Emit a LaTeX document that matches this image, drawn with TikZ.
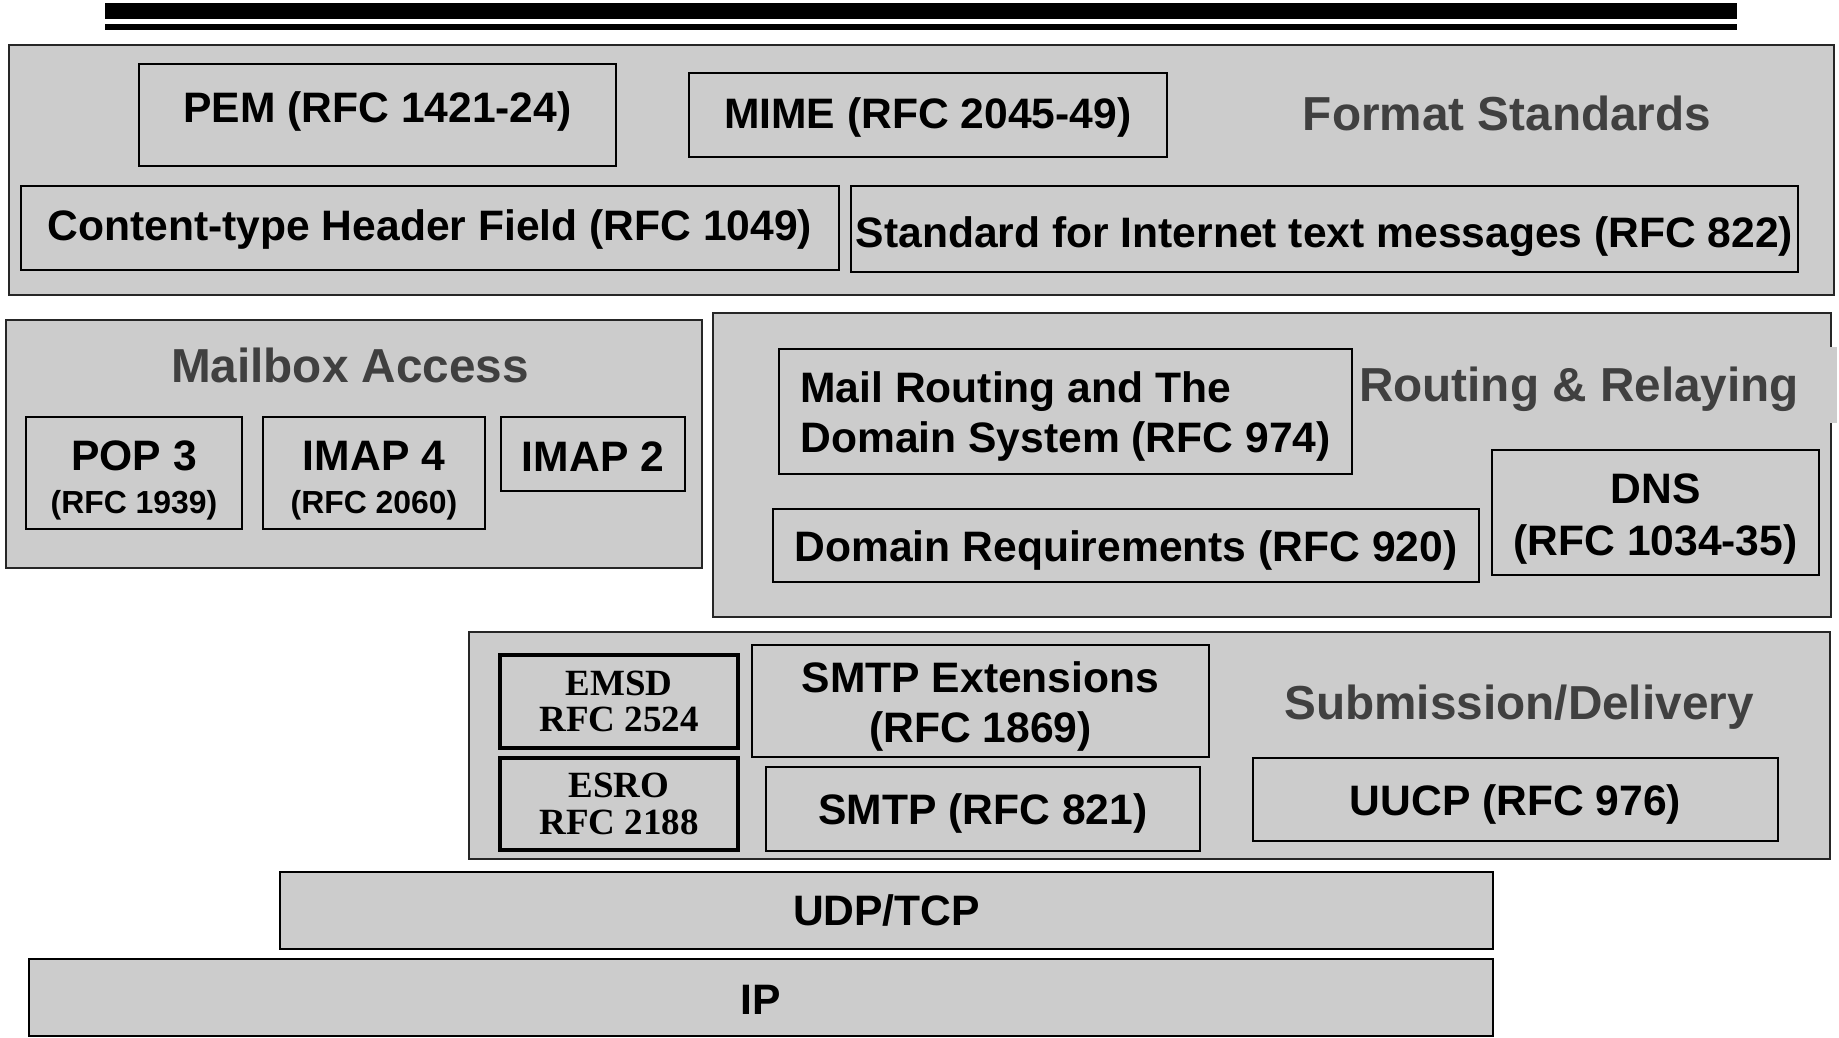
\documentclass[tikz,border=0pt]{standalone}
\usepackage{fontspec}
\setmainfont{Liberation Sans}
\newfontfamily\seriffont{Liberation Serif}
\definecolor{boxgray}{HTML}{CCCCCC}
\definecolor{titlegray}{HTML}{404040}
\begin{document}
\begin{tikzpicture}[x=1pt,y=-1pt,
  group/.style={draw=black!85, fill=boxgray, line width=1.5pt, inner sep=0pt},
  item/.style={draw=black, fill=boxgray, line width=2pt, inner sep=0pt,
    font=\bfseries\fontsize{42.6pt}{50pt}\selectfont},
  oneline/.style={item, text height=#1, text depth=0pt},
  oneline/.default=31pt,
  multiline/.style={item, align=center},
  thickitem/.style={item, align=center, line width=4.5pt,
    font=\seriffont\bfseries\fontsize{37pt}{36.5pt}\selectfont},
  title/.style={text=titlegray, inner sep=0pt,
    font=\bfseries\fontsize{47.7pt}{50pt}\selectfont},
]
\useasboundingbox (0,0) rectangle (1839,1037);

% top double rule
\fill[black] (104.5,3.3) rectangle (1737,19);
\fill[black] (104.5,24) rectangle (1737,30);

% ---------- Format Standards ----------
\node[group, minimum width=1825pt, minimum height=250pt] (fmt) at (921.5,170) {};
\node[oneline=15.5pt, minimum width=477pt, minimum height=102pt] (pem) at (377.5,115) {PEM (RFC 1421-24)};
\node[oneline=26.5pt, minimum width=477.5pt, minimum height=84pt] (mime) at (927.75,115) {MIME (RFC 2045-49)};
\node[title] (fmtT) at (1507,113) {Format Standards};
\node[oneline=24.5pt, minimum width=818.5pt, minimum height=84pt] (ctype) at (429.75,228) {Content-type Header Field (RFC 1049)};
\node[oneline=36pt, minimum width=947pt, minimum height=86pt] (rfc822) at (1324.5,229) {Standard for Internet text messages (RFC 822)};

% ---------- Mailbox Access ----------
\node[group, minimum width=696pt, minimum height=248pt] (mbox) at (354,444) {};
\node[title] (mboxT) at (350,365) {Mailbox Access};
\node[multiline, minimum width=216pt, minimum height=112pt] (pop) at (134,473)
  {\rule{0pt}{44.5pt}POP 3\\[-7pt]{\fontsize{31.9pt}{38pt}\selectfont (RFC 1939)}};
\node[multiline, minimum width=222pt, minimum height=112pt] (imap4) at (374,473)
  {\rule{0pt}{44.5pt}IMAP 4\\[-7pt]{\fontsize{31.9pt}{38pt}\selectfont (RFC 2060)}};
\node[oneline=34.5pt, minimum width=184pt, minimum height=74pt] (imap2) at (593,454) {IMAP 2};

% ---------- Routing & Relaying ----------
\node[group, minimum width=1118pt, minimum height=304pt] (route) at (1272,465) {};
\fill[boxgray] (1826,347) rectangle (1837,423);
\node[title] (routeT) at (1579,389) {Routing \& Relaying};
\node[item, align=left, minimum width=573pt, minimum height=125pt] (mailrt) at (1065.5,411.5)
  {\rule{0pt}{41pt}Mail Routing and The\\Domain System (RFC 974)};
\node[oneline, minimum width=706pt, minimum height=73pt] (domreq) at (1126,545.5) {Domain Requirements (RFC 920)};
\node[multiline, minimum width=327pt, minimum height=125pt] (dns) at (1655.5,512.5)
  {\rule{0pt}{42.5pt}DNS\\[1.5pt](RFC 1034-35)};

% ---------- Submission/Delivery ----------
\node[group, minimum width=1361pt, minimum height=227pt] (sub) at (1149.5,745.5) {};
\node[thickitem, minimum width=238pt, minimum height=93pt] (emsd) at (619,701.5)
  {EMSD\\RFC 2524};
\node[thickitem, minimum width=238pt, minimum height=92pt] (esro) at (619,804)
  {ESRO\\RFC 2188};
\node[multiline, minimum width=457pt, minimum height=112pt] (smtpx) at (980.5,701)
  {\rule{0pt}{41pt}SMTP Extensions\\(RFC 1869)};
\node[oneline, minimum width=434pt, minimum height=84pt] (smtp) at (983,809) {SMTP (RFC 821)};
\node[title] (subT) at (1519,707) {Submission/Delivery};
\node[oneline, minimum width=525pt, minimum height=83pt] (uucp) at (1515.5,799.5) {UUCP (RFC 976)};

% ---------- Transport ----------
\node[oneline=30.5pt, minimum width=1213pt, minimum height=77pt] (udp) at (886.5,910.5) {UDP/TCP};
\node[oneline=34.5pt, minimum width=1464pt, minimum height=77pt] (ip) at (761,997) {IP};
\end{tikzpicture}
\end{document}
